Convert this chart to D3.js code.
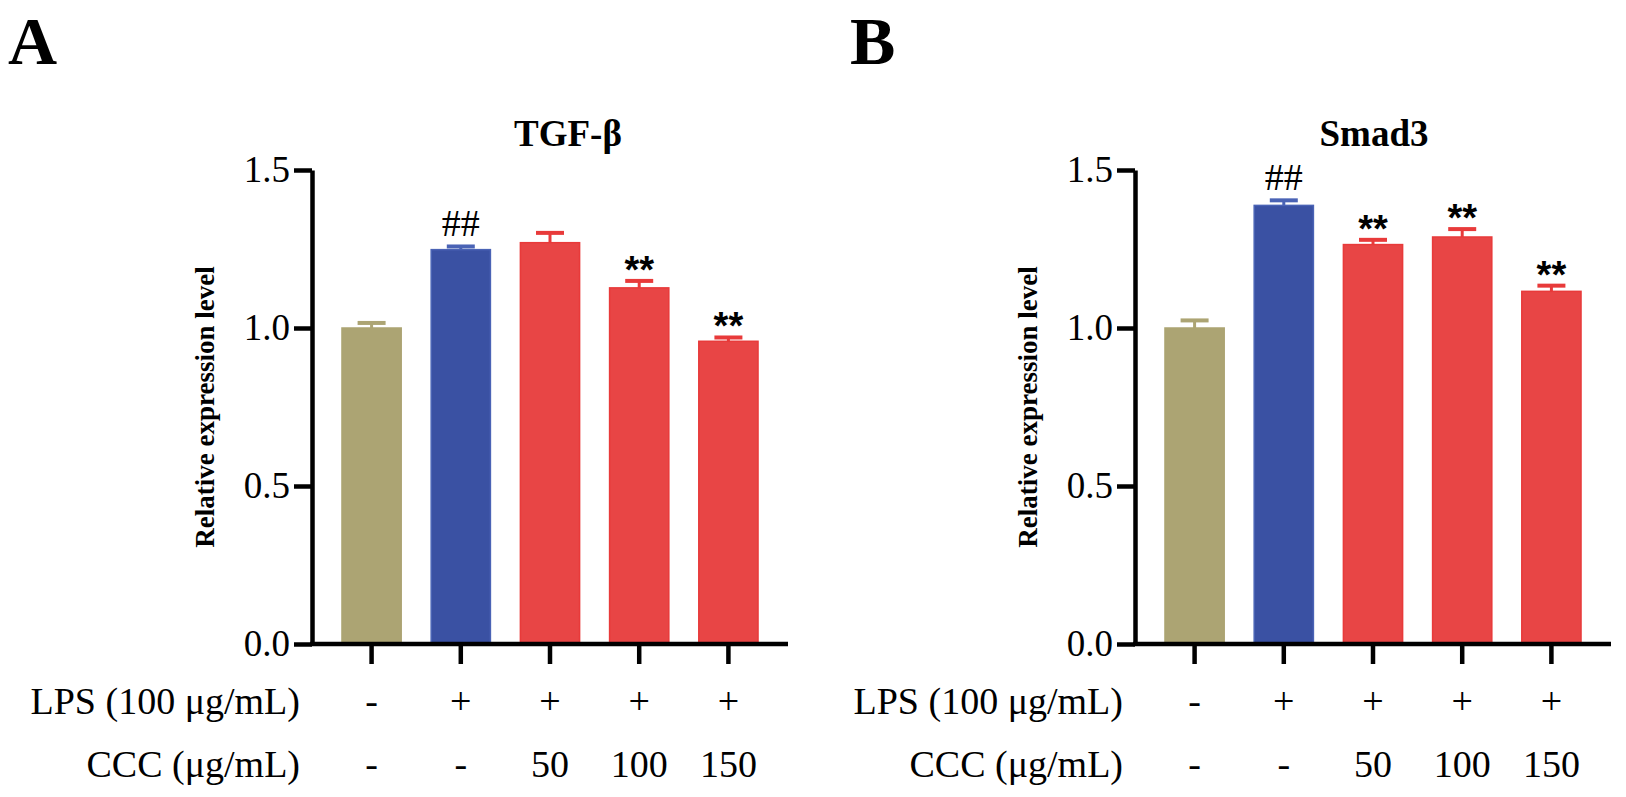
<!DOCTYPE html>
<html>
<head>
<meta charset="utf-8">
<script src="https://cdn.jsdelivr.net/npm/d3@7"></script>
<style>
  body { margin: 0; background: #fff; }
  svg text { font-family: "Liberation Serif", "Times New Roman", serif; }
</style>
</head>
<body>
<svg width="1626" height="797"></svg>
<script>
// groups and values
var groups = ["ctrl", "lps", "ccc50", "ccc100", "ccc150"];
var lpsRow = ["-", "+", "+", "+", "+"];
var cccRow = ["-", "-", "50", "100", "150"];
var barColors = ["#aca473", "#3a51a3", "#e84545", "#e84545", "#e84545"];
var edgeColors = ["#aca473", "#4a63b5", "#e83a3a", "#e83a3a", "#e83a3a"];

var tgfMean = [1.0, 1.248, 1.27, 1.127, 0.958];
var tgfErr = [0.016, 0.01, 0.031, 0.022, 0.012];
var tgfMarks = ["", "##", "", "**", "**"];

var smadMean = [1.0, 1.388, 1.264, 1.288, 1.116];
var smadErr = [0.024, 0.016, 0.015, 0.025, 0.018];
var smadMarks = ["", "##", "**", "**", "**"];

var yTicks = [0, 0.5, 1.0, 1.5];

var svg = d3.select('svg');

var scaleY = d3.scaleLinear().domain([0, 1.5]).range([644, 170]);

function drawPanel(left, letter, letterX, title, titleX, means, errs, marks) {
  var g = svg.append('g');

  var scaleX = d3.scaleBand()
    .domain(groups)
    .range([left, left + 476])
    .paddingInner(0.336)
    .paddingOuter(0.336);

  var data = groups.map(function(d, i){
    return {key: d, mean: means[i], err: errs[i], mark: marks[i], i: i};
  });

  // bars
  g.selectAll('.bar')
    .data(data)
    .enter()
    .append('rect')
    .attr('class', 'bar')
    .attr('x', function(d){ return scaleX(d.key); })
    .attr('width', scaleX.bandwidth())
    .attr('y', function(d){ return scaleY(d.mean); })
    .attr('height', function(d){ return scaleY(0) - scaleY(d.mean); })
    .attr('fill', function(d){ return barColors[d.i]; })
    .attr('stroke', function(d){ return edgeColors[d.i]; })
    .attr('stroke-width', 1.5);

  // error bars (upper only)
  var cap = 28;
  g.selectAll('.errv')
    .data(data)
    .enter()
    .append('line')
    .attr('x1', function(d){ return scaleX(d.key) + scaleX.bandwidth() / 2; })
    .attr('x2', function(d){ return scaleX(d.key) + scaleX.bandwidth() / 2; })
    .attr('y1', function(d){ return scaleY(d.mean); })
    .attr('y2', function(d){ return scaleY(d.mean + d.err); })
    .attr('stroke', function(d){ return edgeColors[d.i]; })
    .attr('stroke-width', 3);

  g.selectAll('.errc')
    .data(data)
    .enter()
    .append('line')
    .attr('x1', function(d){ return scaleX(d.key) + scaleX.bandwidth() / 2 - cap / 2; })
    .attr('x2', function(d){ return scaleX(d.key) + scaleX.bandwidth() / 2 + cap / 2; })
    .attr('y1', function(d){ return scaleY(d.mean + d.err); })
    .attr('y2', function(d){ return scaleY(d.mean + d.err); })
    .attr('stroke', function(d){ return edgeColors[d.i]; })
    .attr('stroke-width', 4);

  // significance marks
  g.selectAll('.mark')
    .data(data.filter(function(d){ return d.mark; }))
    .enter()
    .append('text')
    .attr('x', function(d){ return scaleX(d.key) + scaleX.bandwidth() / 2; })
    .attr('y', function(d){ return scaleY(d.mean + d.err) - (d.mark == "##" ? 10 : -2); })
    .attr('text-anchor', 'middle')
    .style('font-family', function(d){ return d.mark == "##" ? '"Liberation Serif", serif' : '"Liberation Sans", Arial, sans-serif'; })
    .style('font-size', '38px')
    .style('font-weight', function(d){ return d.mark == "##" ? 'normal' : 'bold'; })
    .text(function(d){ return d.mark; });

  // y axis
  var yAxis = g.append('g')
    .attr('transform', 'translate(' + left + ',0)')
    .call(d3.axisLeft(scaleY).tickValues(yTicks).tickSize(18).tickSizeOuter(0).tickPadding(4)
      .tickFormat(d3.format('.1f')));
  yAxis.selectAll('path, line').attr('stroke', '#000').attr('stroke-width', 4.5);
  yAxis.selectAll('text').style('font-family', '"Liberation Serif", serif').style('font-size', '37px')
    .attr('fill', '#000');

  // x axis: baseline plus downward ticks at bar centres
  var xAxis = g.append('g')
    .attr('transform', 'translate(0,' + scaleY(0) + ')')
    .call(d3.axisBottom(scaleX).tickSize(20).tickSizeOuter(0).tickFormat(''));
  xAxis.select('.domain').remove();
  xAxis.selectAll('line').attr('stroke', '#000').attr('stroke-width', 4.5);
  g.append('line')
    .attr('x1', left - 2).attr('x2', left + 476)
    .attr('y1', scaleY(0)).attr('y2', scaleY(0))
    .attr('stroke', '#000').attr('stroke-width', 4.5);

  // treatment rows
  var rows = [[lpsRow, 'LPS (100 \u03bcg/mL)', 714], [cccRow, 'CCC (\u03bcg/mL)', 777]];
  rows.forEach(function(r){
    g.selectAll(null)
      .data(r[0])
      .enter()
      .append('text')
      .attr('x', function(d, i){ return scaleX(groups[i]) + scaleX.bandwidth() / 2; })
      .attr('y', r[2])
      .attr('text-anchor', 'middle')
      .style('font-size', '38px')
      .text(function(d){ return d; });
    g.append('text')
      .attr('x', left - 12)
      .attr('y', r[2])
      .attr('text-anchor', 'end')
      .style('font-size', '38px')
      .text(r[1]);
  });

  // y label
  g.append('text')
    .attr('transform', 'translate(' + (left - 98) + ',' + ((scaleY(0) + scaleY(1.5)) / 2) + ') rotate(-90)')
    .attr('text-anchor', 'middle')
    .style('font-size', '27px')
    .style('font-weight', 'bold')
    .text('Relative expression level');

  // title
  g.append('text')
    .attr('x', titleX)
    .attr('y', 146)
    .attr('text-anchor', 'middle')
    .style('font-size', '37px')
    .style('font-weight', 'bold')
    .text(title);

  // panel letter
  g.append('text')
    .attr('x', letterX)
    .attr('y', 64)
    .style('font-size', '68px')
    .style('font-weight', 'bold')
    .text(letter);
}

drawPanel(312, 'A', 8, 'TGF-\u03b2', 568, tgfMean, tgfErr, tgfMarks);
drawPanel(1135, 'B', 850, 'Smad3', 1374, smadMean, smadErr, smadMarks);
</script>
</body>
</html>
